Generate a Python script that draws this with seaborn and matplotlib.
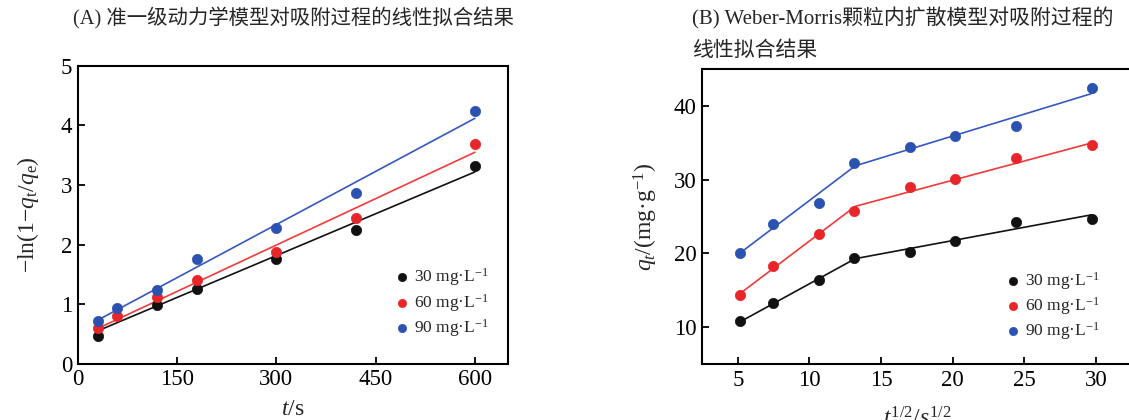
import numpy as np
import pandas as pd
import matplotlib
matplotlib.use('Agg')
import matplotlib.pyplot as plt
import seaborn as sns

# --- DADOS ---
# (A) pseudo-primeira ordem
t_s = [30, 60, 120, 180, 300, 420, 600]
ln_30 = [0.47, None, 0.99, 1.26, 1.75, 2.25, 3.32]
ln_60 = [0.60, 0.80, 1.12, 1.40, 1.87, 2.45, 3.69]
ln_90 = [0.72, 0.94, 1.24, 1.76, 2.28, 2.87, 4.24]
fit_t = [30, 600]
fit_30 = [0.55, 3.22]
fit_60 = [0.59, 3.55]
fit_90 = [0.73, 4.12]

# (B) Weber-Morris
sqrt_t = [5.18, 7.45, 10.64, 13.1, 17.0, 20.2, 24.4, 29.7]
q_30 = [10.9, 13.3, 16.4, 19.4, 20.2, 21.7, 24.3, 24.7]
q_60 = [14.4, 18.35, 22.66, 25.76, 29.0, 30.1, 32.9, 34.7]
q_90 = [20.1, 23.97, 26.9, 32.3, 34.4, 36.0, 37.3, 42.5]
wm_x = [5.18, 13.2, 29.7]
wm_30 = [10.75, 19.3, 25.25]
wm_60 = [14.6, 26.4, 35.0]
wm_90 = [20.1, 31.9, 41.7]

labels = ['30 mg·L$^{-1}$', '60 mg·L$^{-1}$', '90 mg·L$^{-1}$']
pt_colors = ['#111111', '#e8262a', '#2b52b0']
ln_colors = ['#111111', '#f23a3a', '#3558c0']

# --- ESTILO ---
sns.set_style('ticks')
plt.rcParams['font.family'] = ['Liberation Serif', 'Noto Sans CJK SC']
plt.rcParams['mathtext.fontset'] = 'custom'
plt.rcParams['mathtext.rm'] = 'Liberation Serif'
plt.rcParams['mathtext.it'] = 'Liberation Serif:italic'
plt.rcParams['mathtext.bf'] = 'Liberation Serif:bold'

fig = plt.figure(figsize=(11.29, 4.2), dpi=100)
ax1 = fig.add_axes([0.0688, 0.134, 0.3811, 0.709])
ax2 = fig.add_axes([0.6218, 0.1333, 0.3805, 0.7017])


def style_axes(ax):
    for sp in ax.spines.values():
        sp.set_linewidth(1.5)
        sp.set_color('black')
    ax.tick_params(direction='in', length=5, width=1.3, labelsize=16.5,
                   colors='black', pad=4)


def draw_points(ax, x, ys, lines_x, lines_y):
    for y, fy, lab, pc, lc in zip(ys, lines_y, labels, pt_colors, ln_colors):
        sns.lineplot(x=lines_x, y=fy, color=lc, lw=1.2, ax=ax, legend=False)
        df = pd.DataFrame({'x': x, 'y': y}).dropna()
        sns.scatterplot(data=df, x='x', y='y', color=pc, s=55, edgecolor=pc,
                        linewidth=0.5, ax=ax, label=lab, zorder=3)


leg_kw = dict(frameon=False, loc='center', fontsize=12.5, handlelength=1.0,
              handletextpad=0.2, labelspacing=0.2, borderpad=0, markerscale=0.8)

# (A)
draw_points(ax1, t_s, [ln_30, ln_60, ln_90], fit_t, [fit_30, fit_60, fit_90])
ax1.set_xlim(0, 650)
ax1.set_ylim(0, 5)
ax1.set_xticks([0, 150, 300, 450, 600])
ax1.set_yticks([0, 1, 2, 3, 4, 5])
ax1.set_xlabel('$t$/s', fontsize=17, labelpad=6)
ax1.set_ylabel('−ln(1−$q_\\mathrm{t}$/$q_\\mathrm{e}$)', fontsize=17, labelpad=14)
style_axes(ax1)
ax1.legend(bbox_to_anchor=(0.845, 0.205), **leg_kw)

# (B)
draw_points(ax2, sqrt_t, [q_30, q_60, q_90], wm_x, [wm_30, wm_60, wm_90])
ax2.set_xlim(2.5, 32.5)
ax2.set_ylim(5, 45)
ax2.set_xticks([5, 10, 15, 20, 25, 30])
ax2.set_yticks([10, 20, 30, 40])
ax2.set_xlabel('$t^{1/2}$/$s^{1/2}$', fontsize=17, labelpad=12)
ax2.set_ylabel('$q_t$/(mg·g$^{-1}$)', fontsize=17, labelpad=10)
style_axes(ax2)
ax2.legend(bbox_to_anchor=(0.815, 0.197), **leg_kw)

# títulos
fig.text(73 / 1129, 1 - 18 / 420, '(A) 准一级动力学模型对吸附过程的线性拟合结果',
         fontsize=14.7, ha='left', va='center')
fig.text(692 / 1129, 1 - 18 / 420, '(B) Weber-Morris颗粒内扩散模型对吸附过程的',
         fontsize=15, ha='left', va='center')
fig.text(692 / 1129, 1 - 51 / 420, '线性拟合结果',
         fontsize=15, ha='left', va='center')

fig.savefig('out.png', dpi=100)
